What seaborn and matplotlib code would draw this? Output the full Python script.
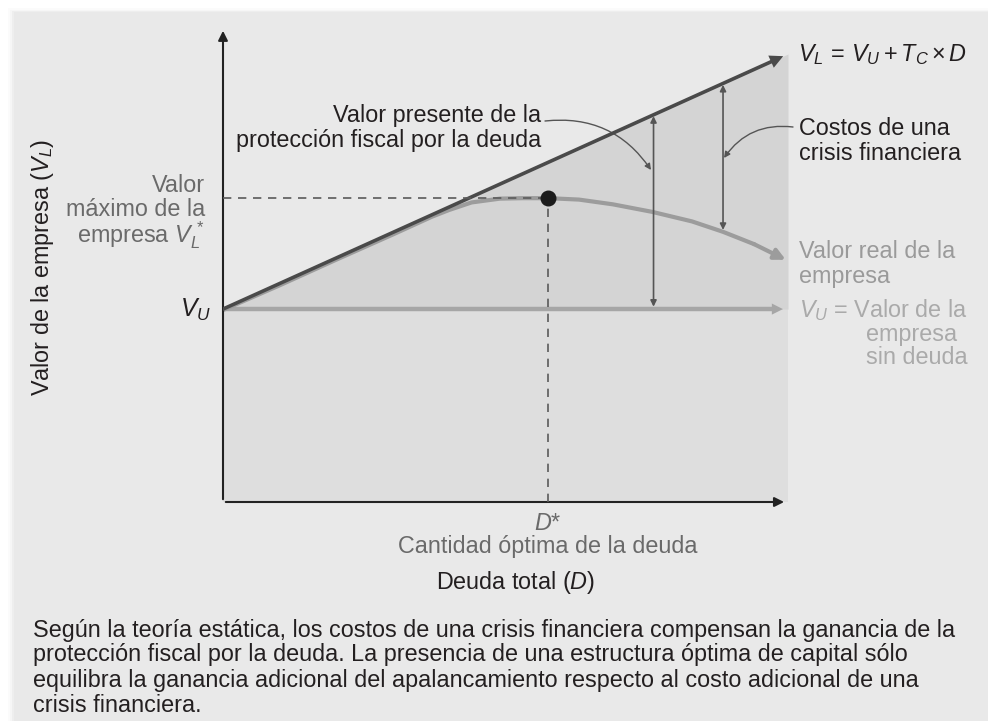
import numpy as np
import matplotlib.pyplot as plt
from matplotlib.patches import Rectangle
import seaborn as sns

# values (x: total debt, y: firm value, arbitrary units)
debt_line = [0.0, 9.96]
vl_line = [4.07, 9.43]                 # V_L = V_U + T_C x D
vu_value = 4.07
vu_end = 9.96
real_x = [0, 1, 2, 3, 3.7, 4.0, 4.4, 4.9, 5.3, 5.76, 6.3, 6.9, 7.6, 8.3, 8.85, 9.4, 9.96]
real_y = [4.05, 4.57, 5.11, 5.64, 6.02, 6.16, 6.32, 6.40, 6.41, 6.41, 6.38, 6.28, 6.12, 5.92, 5.70, 5.44, 5.11]
d_star = 5.76
vl_star = 6.41
# double arrows: (x, top, bottom)
tax_shield_arrow = (7.62, 8.14, 4.12)
distress_arrow = (8.85, 8.80, 5.74)

caption = [
    "Según la teoría estática, los costos de una crisis financiera compensan la ganancia de la",
    "protección fiscal por la deuda. La presencia de una estructura óptima de capital sólo",
    "equilibra la ganancia adicional del apalancamiento respecto al costo adicional de una",
    "crisis financiera.",
]

sns.set_theme(style="white")
plt.rcParams['font.family'] = ['Liberation Sans', 'DejaVu Sans']
plt.rcParams['mathtext.fontset'] = 'custom'
plt.rcParams['mathtext.rm'] = 'Liberation Sans'
plt.rcParams['mathtext.it'] = 'Liberation Sans:italic'

W, H = 988, 721
fig = plt.figure(figsize=(W / 100, H / 100), dpi=100, facecolor='white')


def px(x, y):
    return x / W, 1 - y / H


# panel background with a soft left/top shadow
for k, a in enumerate([0.03, 0.05, 0.08]):
    fig.patches.append(Rectangle(((8 + 2 * k) / W, 0), 1, 1 - (8 + 1.5 * k) / H,
                                 transform=fig.transFigure, facecolor='#9a9a9a',
                                 alpha=a, edgecolor='none', zorder=-11))
fig.patches.append(Rectangle((14 / W, 0), 1, 1 - 12 / H, transform=fig.transFigure,
                             facecolor='#e9e9e9', edgecolor='none', zorder=-10))

ax = fig.add_axes([223 / W, 1 - 502 / H, (788 - 223) / W, (502 - 28) / H])
ax.set_facecolor('none')
ax.set_xlim(0, 10)
ax.set_ylim(0, 10)
ax.axis('off')

# shaded regions
ax.fill_between([0, 10], 0, vu_value, color='#dedede', lw=0, zorder=0)
vl_at_10 = vl_line[0] + (vl_line[1] - vl_line[0]) / (debt_line[1] - debt_line[0]) * 10
ax.fill_between([0, 10], vu_value, [vl_line[0], vl_at_10], color='#d4d4d4', lw=0, zorder=0)

# V_U horizontal
sns.lineplot(x=[0, vu_end - 0.2], y=[vu_value, vu_value], ax=ax, color='#a6a6a6', lw=3.2, zorder=2)
ax.annotate('', xy=(vu_end, vu_value), xytext=(vu_end - 0.3, vu_value),
            arrowprops=dict(arrowstyle='-|>', color='#a6a6a6', lw=0, mutation_scale=20), zorder=2)

# real firm value
sns.lineplot(x=real_x[:-1], y=real_y[:-1], ax=ax, color='#9c9c9c', lw=3, zorder=3, sort=False)
ax.annotate('', xy=(real_x[-1], real_y[-1]), xytext=(real_x[-2], real_y[-2]),
            arrowprops=dict(arrowstyle='-|>', color='#9c9c9c', lw=3, mutation_scale=16,
                            shrinkA=0, shrinkB=0), zorder=3)

# V_L line
sns.lineplot(x=[debt_line[0], debt_line[1] - 0.2], y=[vl_line[0], vl_line[1] - 0.11],
             ax=ax, color='#4a4a4a', lw=2.6, zorder=4)
ax.annotate('', xy=(debt_line[1], vl_line[1]), xytext=(debt_line[0], vl_line[0]),
            arrowprops=dict(arrowstyle='-|>', color='#4a4a4a', lw=0, mutation_scale=24), zorder=4)

# axes with arrows
ax.annotate('', xy=(0, 10), xytext=(0, 0),
            arrowprops=dict(arrowstyle='-|>', color='#222222', lw=1.5, mutation_scale=14))
ax.annotate('', xy=(9.98, 0), xytext=(0, 0),
            arrowprops=dict(arrowstyle='-|>', color='#222222', lw=1.5, mutation_scale=14))

# optimum guides
ax.plot([0, d_star], [vl_star, vl_star], ls=(0, (5, 4)), color='#5a5a5a', lw=1.2, zorder=5)
ax.plot([d_star, d_star], [0, vl_star], ls=(0, (5, 4)), color='#5a5a5a', lw=1.2, zorder=5)
ax.scatter([d_star], [vl_star], s=110, color='#1c1c1c', zorder=6)

# double arrows
for xa, top, bot in [tax_shield_arrow, distress_arrow]:
    ax.annotate('', xy=(xa, top), xytext=(xa, bot),
                arrowprops=dict(arrowstyle='<|-|>', color='#555555', lw=1.2,
                                mutation_scale=9, shrinkA=0, shrinkB=0), zorder=5)

# leader arrows
ax.annotate('', xy=px(651, 170), xycoords='figure fraction',
            xytext=px(545, 121), textcoords='figure fraction',
            arrowprops=dict(arrowstyle='-|>', color='#555555', lw=1.0, mutation_scale=9,
                            connectionstyle='arc3,rad=-0.3', shrinkA=0, shrinkB=0))
ax.annotate('', xy=px(724, 158), xycoords='figure fraction',
            xytext=px(793, 127), textcoords='figure fraction',
            arrowprops=dict(arrowstyle='-|>', color='#555555', lw=1.0, mutation_scale=9,
                            connectionstyle='arc3,rad=0.3', shrinkA=0, shrinkB=0))

fs = 16.8
black = '#231f20'
gray1 = '#6a6a6a'
gray2 = '#9a9a9a'
gray3 = '#aaaaaa'

fig.text(*px(798, 55), r'$V_L\,=\,V_U + T_C \times D$', fontsize=fs, color=black, va='center', ha='left')
fig.text(*px(541, 128), 'Valor presente de la\nprotección fiscal por la deuda', fontsize=fs,
         color=black, ha='right', va='center', multialignment='right', linespacing=1.1)
fig.text(*px(799, 141), 'Costos de una\ncrisis financiera', fontsize=fs, color=black,
         ha='left', va='center', linespacing=1.1)
fig.text(*px(799, 264), 'Valor real de la\nempresa', fontsize=fs, color=gray2,
         ha='left', va='center', linespacing=1.1)
fig.text(*px(799, 310), r'$V_U$ = Valor de la', fontsize=fs, color=gray3, ha='left', va='center')
fig.text(*px(866, 335), 'empresa', fontsize=fs, color=gray3, ha='left', va='center')
fig.text(*px(866, 358), 'sin deuda', fontsize=fs, color=gray3, ha='left', va='center')

fig.text(*px(205, 185), 'Valor', fontsize=fs, color=gray1, ha='right', va='center')
fig.text(*px(205, 210), 'máximo de la', fontsize=fs, color=gray1, ha='right', va='center')
fig.text(*px(205, 235), r'empresa $V_L^{\,*}$', fontsize=fs, color=gray1, ha='right', va='center')
fig.text(*px(211, 310), r'$V_U$', fontsize=fs + 1, color=black, ha='right', va='center')

fig.text(*px(43, 267), r'Valor de la empresa ($V_L$)', fontsize=fs, color=black,
         rotation=90, ha='center', va='center')

fig.text(*px(548, 523), r'$D$*', fontsize=fs, color=gray1, ha='center', va='center')
fig.text(*px(548, 547), 'Cantidad óptima de la deuda', fontsize=fs, color=gray1, ha='center', va='center')
fig.text(*px(516, 582), r'Deuda total ($D$)', fontsize=fs, color=black, ha='center', va='center')

for i, line in enumerate(caption):
    fig.text(*px(33, 630 + 25 * i), line, fontsize=fs, color=black, ha='left', va='center')

fig.savefig('out.png', dpi=100, facecolor=fig.get_facecolor())
